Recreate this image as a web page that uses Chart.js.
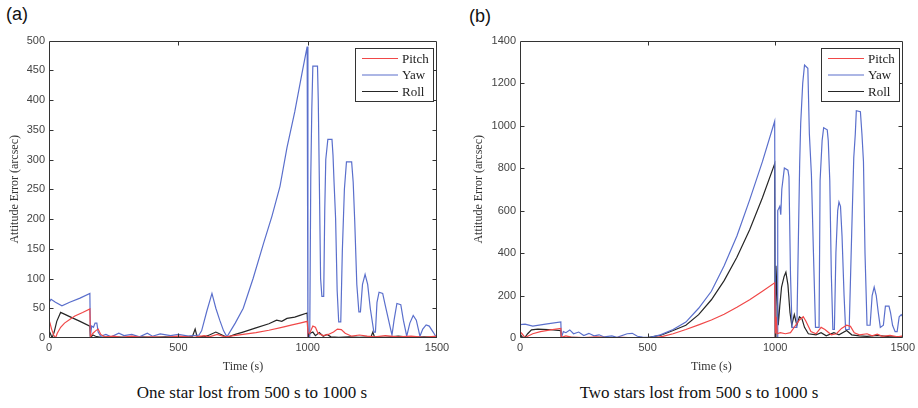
<!DOCTYPE html>
<html>
<head>
<meta charset="utf-8">
<script src="https://cdn.jsdelivr.net/npm/chart.js@4"></script>
<style>
  body { margin: 0; background: #fff; width: 918px; height: 408px; position: relative; overflow: hidden; }
  canvas { position: absolute; }
  .tag { position: absolute; font: 18px "Liberation Sans", Arial, sans-serif; color: #111; }
  .cap { position: absolute; font: 17px "Liberation Serif", "Times New Roman", serif; color: #111; text-align: center; width: 460px; }
</style>
</head>
<body>
<div class="tag" style="left:6px; top:4px;">(a)</div>
<div class="tag" style="left:469px; top:6px;">(b)</div>
<canvas id="chartA" width="455" height="344" style="left:0; top:30px;"></canvas>
<canvas id="chartB" width="463" height="344" style="left:455px; top:30px;"></canvas>
<div class="cap" style="left:22px; top:383px;">One star lost from 500 s to 1000 s</div>
<div class="cap" style="left:469px; top:383px;">Two stars lost from 500 s to 1000 s</div>
<script>
// tick labels / axes
const timeTicks = [0, 500, 1000, 1500];
const errTicksA = [0, 50, 100, 150, 200, 250, 300, 350, 400, 450, 500];
const errTicksB = [0, 200, 400, 600, 800, 1000, 1200, 1400];
const seriesNames = ['Pitch', 'Yaw', 'Roll'];

// (a) one star lost: [time s, error arcsec]
const pitchA = [[0,30],[4,25],[10,15],[18,5],[25,0],[32,8],[45,18],[60,25],[80,31],[100,37],[130,43],[158,49],[160,2],[170,8],[180,12],[190,15],[200,6],[215,2],[250,3],[280,1],[320,3],[360,1],[400,2],[450,1],[500,3],[560,1],[600,4],[620,2],[650,6],[680,2],[700,3],[750,6],[800,9],[850,13],[900,18],[940,22],[970,25],[998,28],[1002,4],[1010,10],[1020,20],[1030,18],[1040,8],[1060,4],[1080,6],[1100,10],[1115,15],[1130,14],[1145,8],[1170,3],[1200,5],[1230,3],[1260,2],[1300,4],[1350,2],[1400,3],[1450,1],[1500,3]];
const yawA = [[0,60],[8,65],[25,60],[50,54],[80,60],[120,67],[158,75],[160,3],[165,20],[172,18],[178,25],[185,25],[190,10],[200,3],[220,6],[240,2],[270,8],[290,4],[320,6],[350,2],[380,8],[400,3],[430,7],[470,4],[500,6],[540,3],[580,5],[590,12],[610,45],[630,75],[645,50],[660,30],[675,12],[688,2],[720,25],[751,50],[789,100],[830,160],[862,205],[893,255],[920,320],[950,380],[978,445],[998,490],[1001,0],[1008,0],[1012,270],[1016,384],[1020,457],[1038,457],[1041,400],[1045,268],[1050,100],[1055,70],[1062,70],[1066,213],[1070,300],[1078,334],[1094,334],[1098,307],[1102,262],[1108,201],[1114,80],[1120,27],[1128,27],[1134,146],[1142,250],[1150,296],[1170,296],[1176,262],[1182,196],[1190,90],[1198,44],[1204,44],[1212,90],[1222,107],[1232,90],[1242,50],[1256,10],[1262,10],[1268,60],[1276,77],[1290,75],[1300,55],[1318,20],[1326,5],[1334,30],[1345,58],[1360,56],[1370,30],[1383,3],[1395,25],[1408,38],[1420,30],[1434,3],[1445,15],[1458,22],[1470,20],[1485,10],[1495,3],[1500,2]];
const rollA = [[0,12],[5,8],[12,0],[20,10],[30,28],[45,43],[80,36],[120,28],[158,20],[160,1],[170,5],[180,3],[200,1],[250,2],[300,1],[350,2],[400,1],[450,2],[500,1],[555,3],[565,15],[572,3],[600,2],[620,5],[645,10],[665,6],[688,1],[720,6],[750,10],[800,17],[850,24],[880,30],[900,28],[920,33],[950,35],[970,38],[998,42],[1002,2],[1010,8],[1020,10],[1030,4],[1045,9],[1060,3],[1075,6],[1090,2],[1120,1],[1160,2],[1200,1],[1245,2],[1252,10],[1258,2],[1300,1],[1350,3],[1400,1],[1450,2],[1500,1]];

// (b) two stars lost
const pitchB = [[0,30],[8,20],[20,2],[30,8],[50,20],[80,30],[120,38],[160,45],[162,3],[180,10],[200,4],[250,2],[300,5],[350,1],[400,3],[450,1],[520,0],[560,8],[600,20],[650,40],[700,62],[750,85],[800,112],[850,145],[900,180],[950,220],[998,260],[1001,5],[1004,100],[1008,20],[1020,25],[1040,20],[1060,25],[1080,60],[1095,85],[1110,100],[1120,80],[1140,30],[1160,20],[1180,50],[1195,40],[1220,15],[1240,20],[1260,45],[1280,60],[1295,55],[1310,25],[1330,15],[1360,20],[1380,10],[1400,18],[1420,8],[1450,12],[1480,5],[1500,10]];
const yawB = [[0,63],[20,65],[50,56],[100,65],[160,76],[162,2],[170,30],[180,25],[195,38],[210,20],[230,28],[250,12],[270,22],[290,10],[310,15],[330,5],[360,10],[380,3],[420,20],[440,22],[460,8],[480,4],[510,3],[550,15],[600,40],[650,75],[700,140],[750,220],[800,340],[850,480],[900,650],[950,830],[998,1020],[1001,0],[1008,0],[1010,600],[1018,620],[1022,580],[1026,700],[1036,800],[1050,790],[1054,760],[1060,300],[1066,50],[1085,50],[1090,400],[1096,820],[1100,1010],[1108,1200],[1115,1285],[1128,1270],[1134,960],[1142,770],[1150,400],[1158,50],[1172,50],[1176,740],[1184,930],[1190,990],[1204,980],[1208,930],[1214,740],[1220,300],[1226,40],[1232,40],[1238,400],[1245,600],[1250,640],[1256,620],[1262,480],[1270,200],[1276,40],[1290,40],[1300,500],[1308,850],[1314,960],[1318,1070],[1334,1065],[1340,960],[1346,830],[1352,400],[1360,60],[1372,60],[1380,200],[1388,240],[1396,200],[1404,120],[1412,50],[1424,60],[1432,150],[1446,150],[1452,120],[1460,60],[1470,30],[1478,30],[1486,100],[1494,110],[1500,100]];
const rollB = [[0,20],[8,5],[18,1],[30,20],[45,38],[70,42],[110,40],[160,35],[162,1],[200,3],[260,1],[320,3],[380,1],[440,2],[500,2],[550,12],[600,35],[650,60],[700,110],[750,180],[800,270],[850,380],[900,510],[950,660],[998,820],[1000,0],[1003,340],[1008,200],[1012,60],[1018,150],[1025,240],[1035,290],[1042,310],[1050,250],[1058,120],[1065,60],[1075,110],[1085,60],[1095,100],[1105,90],[1115,50],[1130,20],[1160,15],[1180,25],[1200,10],[1230,25],[1250,15],[1280,35],[1300,15],[1330,10],[1360,8],[1400,12],[1450,5],[1500,5]];

const colors = ['#f04848', '#5a6fcc', '#262626'];
const tickFont = { family: '"Liberation Sans", Arial, sans-serif', size: 11 };
const serif = '"Liberation Serif", "Times New Roman", serif';

// box round the plot with inward ticks + legend, matlab style
const frame = {
  id: 'frame',
  afterDraw(chart) {
    const { ctx, chartArea: a, scales: { x, y } } = chart;
    const opts = chart.options.plugins.frame;
    const l = Math.round(a.left) + 0.5, r = Math.round(a.right) - 0.5;
    const t = Math.round(a.top) + 0.5, b = Math.round(a.bottom) - 0.5;
    ctx.save();
    ctx.strokeStyle = '#333';
    ctx.lineWidth = 1;
    ctx.beginPath();
    ctx.rect(l, t, r - l, b - t);
    opts.xTicks.forEach(v => {
      const px = Math.round(x.getPixelForValue(v)) + 0.5;
      ctx.moveTo(px, b); ctx.lineTo(px, b - 4);
      ctx.moveTo(px, t); ctx.lineTo(px, t + 4);
    });
    opts.yTicks.forEach(v => {
      const py = Math.round(y.getPixelForValue(v)) + 0.5;
      ctx.moveTo(l, py); ctx.lineTo(l + 4, py);
      ctx.moveTo(r, py); ctx.lineTo(r - 4, py);
    });
    ctx.stroke();

    // legend
    const w = 78, h = 53;
    const bx = Math.round(a.right) - 4 - w, by = Math.round(a.top) + 7;
    ctx.fillStyle = '#fff';
    ctx.fillRect(bx, by, w, h);
    ctx.strokeStyle = '#333';
    ctx.strokeRect(bx + 0.5, by + 0.5, w, h);
    ctx.font = '13px ' + serif;
    ctx.textBaseline = 'middle';
    ctx.textAlign = 'left';
    chart.data.datasets.forEach((ds, i) => {
      const ry = by + 10.5 + i * 16.5;
      ctx.strokeStyle = ds.borderColor;
      ctx.lineWidth = 1.2;
      ctx.beginPath();
      ctx.moveTo(bx + 7, ry); ctx.lineTo(bx + 43, ry);
      ctx.stroke();
      ctx.fillStyle = '#222';
      ctx.fillText(ds.label, bx + 47, ry + 1);
    });
    ctx.restore();
  }
};

function makeChart(id, series, yMax, yTicks, yWidth, top, rightPad, titlePad) {
  const ctx = document.getElementById(id).getContext('2d');
  return new Chart(ctx, {
    type: 'line',
    data: {
      datasets: series.map((s, i) => ({
        label: seriesNames[i],
        data: s.map(p => ({ x: p[0], y: p[1] })),
        borderColor: colors[i],
        borderWidth: 1.2,
        pointRadius: 0,
        tension: 0,
        fill: false
      }))
    },
    options: {
      responsive: false,
      animation: false,
      events: [],
      layout: { padding: { top: top, right: rightPad, left: 0, bottom: 0 } },
      plugins: {
        legend: { display: false },
        tooltip: { enabled: false },
        frame: { xTicks: timeTicks.slice(1, -1), yTicks: yTicks.slice(1, -1) }
      },
      scales: {
        x: {
          type: 'linear', min: 0, max: 1500,
          afterBuildTicks: s => { s.ticks = timeTicks.map(v => ({ value: v })); },
          ticks: { font: tickFont, color: '#444', padding: 3, maxRotation: 0, callback: v => String(v) },
          grid: { display: false, drawTicks: false },
          border: { display: false },
          title: { display: true, text: 'Time (s)', color: '#333', font: { family: serif, size: 12 }, padding: { top: 0, bottom: 0 } },
          afterFit: s => { s.height = 36; }
        },
        y: {
          min: 0, max: yMax,
          afterBuildTicks: s => { s.ticks = yTicks.map(v => ({ value: v })); },
          ticks: { font: tickFont, color: '#444', padding: 4, callback: v => String(v) },
          grid: { display: false, drawTicks: false },
          border: { display: false },
          title: { display: true, text: 'Attitude Error (arcsec)', color: '#333', font: { family: serif, size: 12 }, padding: { top: titlePad, bottom: 0 } },
          afterFit: s => { s.width = yWidth; }
        }
      }
    },
    plugins: [frame]
  });
}

makeChart('chartA', [pitchA, yawA, rollA], 500, errTicksA, 49, 7, 18, 8);
makeChart('chartB', [pitchB, yawB, rollB], 1400, errTicksB, 65, 9, 11, 17);
</script>
</body>
</html>
